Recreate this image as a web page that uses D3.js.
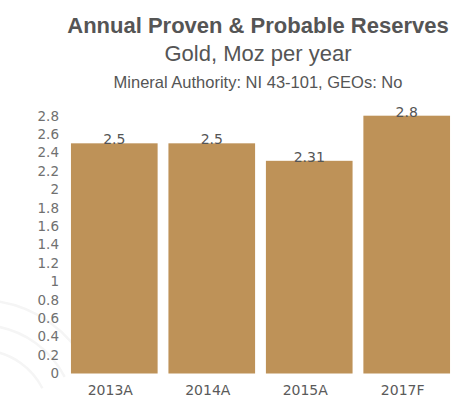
<!DOCTYPE html>
<html>
<head>
<meta charset="utf-8">
<script src="https://cdn.jsdelivr.net/npm/d3@7"></script>
<style>
  html, body { margin: 0; padding: 0; background: #fff; }
  svg { display: block; }
</style>
</head>
<body>
<svg id="chart" width="474" height="400"></svg>
<script>
// Annual proven & probable gold reserves (Moz per year)
const categories = ["2013A", "2014A", "2015A", "2017F"];
const reserves = [2.5, 2.5, 2.31, 2.8];
const valueLabels = ["2.5", "2.5", "2.31", "2.8"];
const yTicks = [0, 0.2, 0.4, 0.6, 0.8, 1, 1.2, 1.4, 1.6, 1.8, 2, 2.2, 2.4, 2.6, 2.8];

const svg = d3.select("#chart");

// faint background swooshes
const bg = svg.append("g").attr("fill", "none").attr("stroke", "#f5f5f5").attr("stroke-width", 2.5);
[[-20, 420, 70], [-20, 420, 95], [-20, 420, 120]].forEach(([cx, cy, r]) => {
  bg.append("path").attr("d", d3.arc()({innerRadius: r, outerRadius: r, startAngle: 0.15, endAngle: 1.1}))
    .attr("transform", `translate(${cx},${cy})`);
});

const x = d3.scaleBand()
  .domain(categories)
  .range([65.6, 455.4])
  .paddingInner(0.111)
  .paddingOuter(0.055);

const y = d3.scaleLinear()
  .domain([0, 2.8])
  .range([373.5, 115.7]);

const barColor = "#be9258";

// bars
svg.append("g")
  .selectAll("rect")
  .data(reserves)
  .join("rect")
  .attr("x", (d, i) => x(categories[i]))
  .attr("y", d => y(d))
  .attr("width", x.bandwidth())
  .attr("height", d => y(0) - y(d))
  .attr("fill", barColor);

// value labels sitting on bar tops
svg.append("g")
  .selectAll("text")
  .data(reserves)
  .join("text")
  .attr("x", (d, i) => x(categories[i]) + x.bandwidth() / 2)
  .attr("y", d => y(d) + 1)
  .attr("text-anchor", "middle")
  .attr("font-family", "DejaVu Sans, sans-serif")
  .attr("font-size", 14)
  .attr("fill", "#555")
  .text((d, i) => valueLabels[i]);

// y axis (labels only)
const yAxis = svg.append("g")
  .attr("transform", "translate(60,0)")
  .call(d3.axisLeft(y).tickValues(yTicks).tickSize(0).tickPadding(1)
    .tickFormat(d => d3.format("")(+d.toFixed(1))));
yAxis.select(".domain").remove();
yAxis.selectAll("text")
  .attr("font-family", "DejaVu Sans, sans-serif")
  .attr("font-size", 13.5)
  .attr("fill", "#707070");

// x axis (labels only)
const xAxis = svg.append("g")
  .attr("transform", `translate(0,${y(0)})`)
  .call(d3.axisBottom(x).tickSize(0).tickPadding(12));
xAxis.select(".domain").remove();
xAxis.selectAll("text")
  .attr("dx", -4)
  .attr("font-family", "DejaVu Sans, sans-serif")
  .attr("font-size", 14)
  .attr("fill", "#5a5a5a");

// titles
const cx = 258;
svg.append("text")
  .attr("x", cx).attr("y", 33)
  .attr("text-anchor", "middle")
  .attr("font-family", "Liberation Sans, Arial, sans-serif")
  .attr("font-weight", "bold")
  .attr("font-size", 22)
  .attr("fill", "#555")
  .text("Annual Proven & Probable Reserves");
svg.append("text")
  .attr("x", cx).attr("y", 61)
  .attr("text-anchor", "middle")
  .attr("font-family", "Liberation Sans, Arial, sans-serif")
  .attr("font-size", 22)
  .attr("fill", "#555")
  .text("Gold, Moz per year");
svg.append("text")
  .attr("x", cx).attr("y", 88)
  .attr("text-anchor", "middle")
  .attr("font-family", "Liberation Sans, Arial, sans-serif")
  .attr("font-size", 16.5)
  .attr("fill", "#555")
  .text("Mineral Authority: NI 43-101, GEOs: No");
</script>
</body>
</html>
